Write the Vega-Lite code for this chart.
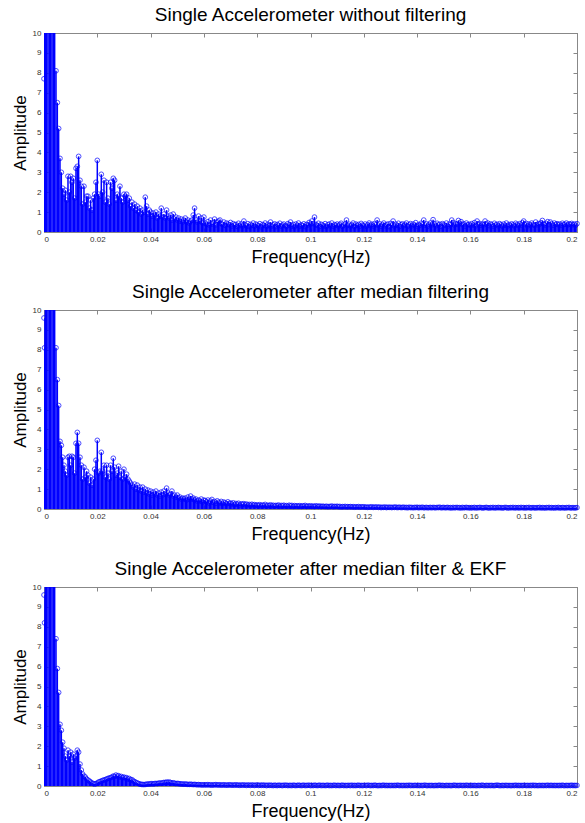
{
"$schema": "https://vega.github.io/schema/vega-lite/v6.json",
"background": "white",
"padding": {"left": 10, "top": 5, "right": 5, "bottom": 5},
"bounds": "flush",
"spacing": 78,
"config": {
  "view": {"stroke": "#888888", "strokeWidth": 1},
  "axis": {"grid": false, "domainColor": "#888888", "tickColor": "#888888", "tickSize": -4, "labelPadding": 7, "labelColor": "#333333", "labelFont": "Liberation Sans", "labelFontSize": 8, "titleFont": "Liberation Sans", "titleFontWeight": "normal", "titleColor": "#000000"},
  "title": {"font": "Liberation Sans", "fontSize": 19, "fontWeight": "normal", "color": "#000000", "offset": 4}
},
"datasets": {"d": [
{"f":0,"a":7.7,"b":9.6,"c":9.6},
{"f":0.0002,"a":15,"b":8.1,"c":8.2},
{"f":0.0005,"a":15,"b":15,"c":15},
{"f":0.001,"a":15,"b":15,"c":15},
{"f":0.0015,"a":15,"b":15,"c":15},
{"f":0.002,"a":15,"b":15,"c":15},
{"f":0.0025,"a":15,"b":15,"c":15},
{"f":0.003,"a":15,"b":15,"c":15},
{"f":0.0035,"a":15,"b":15,"c":15},
{"f":0.004,"a":15,"b":15,"c":15},
{"f":0.0045,"a":8.1,"b":8.1,"c":7.4},
{"f":0.005,"a":6.5,"b":6.5,"c":5.9},
{"f":0.0055,"a":5.2,"b":5.2,"c":4.7},
{"f":0.006,"a":3.7,"b":3.4,"c":3.1},
{"f":0.0065,"a":3.0,"b":3.2,"c":2.8},
{"f":0.007,"a":2.2,"b":2.6,"c":2.2},
{"f":0.0075,"a":1.9,"b":2.2,"c":1.9},
{"f":0.008,"a":2.1,"b":1.9,"c":1.5},
{"f":0.0085,"a":1.6,"b":1.7,"c":1.3},
{"f":0.009,"a":2.8,"b":2.6,"c":1.8},
{"f":0.0095,"a":2.0,"b":2.65,"c":1.5},
{"f":0.01,"a":2.8,"b":2.2,"c":1.7},
{"f":0.0105,"a":2.5,"b":2.65,"c":1.2},
{"f":0.011,"a":2.7,"b":2.6,"c":1.6},
{"f":0.0115,"a":1.7,"b":1.8,"c":1.4},
{"f":0.012,"a":3.2,"b":3.3,"c":1.5},
{"f":0.0125,"a":3.3,"b":3.85,"c":1.8},
{"f":0.013,"a":3.8,"b":3.3,"c":1.7},
{"f":0.0135,"a":2.6,"b":2.6,"c":1.1},
{"f":0.014,"a":2.3,"b":2.2,"c":0.8},
{"f":0.0145,"a":1.4,"b":1.5,"c":0.6},
{"f":0.015,"a":2.3,"b":2.1,"c":0.5},
{"f":0.0155,"a":1.5,"b":1.6,"c":0.45},
{"f":0.016,"a":1.8,"b":1.9,"c":0.35},
{"f":0.0165,"a":1.8,"b":1.7,"c":0.3},
{"f":0.017,"a":1.2,"b":1.3,"c":0.25},
{"f":0.0175,"a":1.6,"b":1.6,"c":0.2},
{"f":0.018,"a":1.1,"b":1.2,"c":0.15},
{"f":0.0185,"a":1.7,"b":1.5,"c":0.12},
{"f":0.019,"a":1.9,"b":2.0,"c":0.1},
{"f":0.0195,"a":2.5,"b":2.45,"c":0.12},
{"f":0.02,"a":3.6,"b":3.45,"c":0.15},
{"f":0.0205,"a":1.9,"b":1.8,"c":0.2},
{"f":0.021,"a":1.8,"b":1.9,"c":0.22},
{"f":0.0215,"a":2.9,"b":2.85,"c":0.25},
{"f":0.022,"a":2.0,"b":1.9,"c":0.28},
{"f":0.0225,"a":2.6,"b":2.2,"c":0.3},
{"f":0.023,"a":1.5,"b":1.6,"c":0.32},
{"f":0.0235,"a":2.5,"b":2.2,"c":0.35},
{"f":0.024,"a":1.7,"b":1.8,"c":0.38},
{"f":0.0245,"a":1.4,"b":1.5,"c":0.4},
{"f":0.025,"a":2.5,"b":2.2,"c":0.42},
{"f":0.0255,"a":2.2,"b":1.9,"c":0.45},
{"f":0.026,"a":2.7,"b":2.55,"c":0.5},
{"f":0.0265,"a":2.6,"b":2.1,"c":0.48},
{"f":0.027,"a":1.6,"b":1.7,"c":0.55},
{"f":0.0275,"a":1.9,"b":1.8,"c":0.5},
{"f":0.028,"a":1.8,"b":2.15,"c":0.52},
{"f":0.0285,"a":2.3,"b":1.6,"c":0.45},
{"f":0.029,"a":1.7,"b":1.9,"c":0.48},
{"f":0.0295,"a":1.5,"b":1.5,"c":0.42},
{"f":0.03,"a":1.9,"b":2.0,"c":0.45},
{"f":0.0305,"a":1.8,"b":1.6,"c":0.4},
{"f":0.031,"a":1.9,"b":1.75,"c":0.42},
{"f":0.0315,"a":1.6,"b":1.5,"c":0.35},
{"f":0.032,"a":1.7,"b":1.4,"c":0.38},
{"f":0.0325,"a":1.3,"b":1.3,"c":0.3},
{"f":0.033,"a":1.5,"b":1.2,"c":0.32},
{"f":0.0335,"a":1.2,"b":1.1,"c":0.25},
{"f":0.034,"a":1.4,"b":1.25,"c":0.22},
{"f":0.0345,"a":1.1,"b":1.0,"c":0.18},
{"f":0.035,"a":1.3,"b":1.2,"c":0.15},
{"f":0.0355,"a":1.0,"b":0.95,"c":0.12},
{"f":0.036,"a":1.2,"b":1.1,"c":0.1},
{"f":0.0365,"a":0.9,"b":0.9,"c":0.08},
{"f":0.037,"a":1.1,"b":1.1,"c":0.08},
{"f":0.0375,"a":1.0,"b":0.85,"c":0.07},
{"f":0.038,"a":1.75,"b":1.0,"c":0.08},
{"f":0.0385,"a":1.3,"b":0.8,"c":0.09},
{"f":0.039,"a":0.9,"b":0.95,"c":0.1},
{"f":0.0395,"a":1.1,"b":0.75,"c":0.1},
{"f":0.04,"a":1.0,"b":0.9,"c":0.11},
{"f":0.0405,"a":0.8,"b":0.7,"c":0.12},
{"f":0.041,"a":0.95,"b":0.85,"c":0.1},
{"f":0.0415,"a":0.85,"b":0.75,"c":0.12},
{"f":0.042,"a":1.0,"b":0.9,"c":0.13},
{"f":0.0425,"a":0.7,"b":0.7,"c":0.12},
{"f":0.043,"a":0.9,"b":0.8,"c":0.14},
{"f":0.0435,"a":0.8,"b":0.65,"c":0.15},
{"f":0.044,"a":1.2,"b":0.85,"c":0.14},
{"f":0.0445,"a":0.75,"b":0.7,"c":0.16},
{"f":0.045,"a":0.9,"b":0.9,"c":0.18},
{"f":0.0455,"a":0.7,"b":0.75,"c":0.17},
{"f":0.046,"a":1.1,"b":1.05,"c":0.2},
{"f":0.0465,"a":0.8,"b":0.8,"c":0.18},
{"f":0.047,"a":0.7,"b":0.7,"c":0.2},
{"f":0.0475,"a":0.85,"b":0.75,"c":0.17},
{"f":0.048,"a":0.6,"b":0.9,"c":0.15},
{"f":0.0485,"a":0.9,"b":0.65,"c":0.16},
{"f":0.049,"a":0.65,"b":0.7,"c":0.14},
{"f":0.0495,"a":0.75,"b":0.6,"c":0.12},
{"f":0.05,"a":0.6,"b":0.7,"c":0.13},
{"f":0.0505,"a":0.7,"b":0.55,"c":0.12},
{"f":0.051,"a":0.55,"b":0.6,"c":0.11},
{"f":0.0515,"a":0.65,"b":0.5,"c":0.1},
{"f":0.052,"a":0.5,"b":0.55,"c":0.1},
{"f":0.0525,"a":0.6,"b":0.5,"c":0.09},
{"f":0.053,"a":0.7,"b":0.55,"c":0.1},
{"f":0.0535,"a":0.5,"b":0.45,"c":0.09},
{"f":0.054,"a":0.6,"b":0.6,"c":0.08},
{"f":0.0545,"a":0.45,"b":0.5,"c":0.08},
{"f":0.055,"a":0.55,"b":0.65,"c":0.09},
{"f":0.0555,"a":0.6,"b":0.5,"c":0.08},
{"f":0.056,"a":0.85,"b":0.55,"c":0.07},
{"f":0.0565,"a":1.2,"b":0.45,"c":0.08},
{"f":0.057,"a":0.6,"b":0.5,"c":0.07},
{"f":0.0575,"a":0.5,"b":0.4,"c":0.06},
{"f":0.058,"a":0.8,"b":0.45,"c":0.07},
{"f":0.0585,"a":0.55,"b":0.4,"c":0.06},
{"f":0.059,"a":0.7,"b":0.5,"c":0.06},
{"f":0.0595,"a":0.45,"b":0.35,"c":0.05},
{"f":0.06,"a":0.75,"b":0.45,"c":0.06},
{"f":0.0605,"a":0.45,"b":0.42,"c":0.06},
{"f":0.061,"a":0.38,"b":0.36,"c":0.05},
{"f":0.0615,"a":0.52,"b":0.45,"c":0.07},
{"f":0.062,"a":0.35,"b":0.3,"c":0.05},
{"f":0.0625,"a":0.6,"b":0.4,"c":0.06},
{"f":0.063,"a":0.4,"b":0.48,"c":0.04},
{"f":0.0635,"a":0.48,"b":0.33,"c":0.06},
{"f":0.064,"a":0.65,"b":0.38,"c":0.05},
{"f":0.0645,"a":0.36,"b":0.29,"c":0.07},
{"f":0.065,"a":0.5,"b":0.41,"c":0.05},
{"f":0.0655,"a":0.55,"b":0.34,"c":0.05},
{"f":0.066,"a":0.6,"b":0.3,"c":0.06},
{"f":0.0665,"a":0.42,"b":0.38,"c":0.04},
{"f":0.067,"a":0.38,"b":0.27,"c":0.05},
{"f":0.0675,"a":0.5,"b":0.35,"c":0.06},
{"f":0.068,"a":0.33,"b":0.31,"c":0.04},
{"f":0.0685,"a":0.45,"b":0.26,"c":0.05},
{"f":0.069,"a":0.4,"b":0.36,"c":0.04},
{"f":0.0695,"a":0.36,"b":0.28,"c":0.06},
{"f":0.07,"a":0.48,"b":0.3,"c":0.05},
{"f":0.0705,"a":0.3,"b":0.25,"c":0.04},
{"f":0.071,"a":0.42,"b":0.31,"c":0.05},
{"f":0.0715,"a":0.35,"b":0.22,"c":0.04},
{"f":0.072,"a":0.38,"b":0.28,"c":0.06},
{"f":0.0725,"a":0.28,"b":0.24,"c":0.04},
{"f":0.073,"a":0.44,"b":0.29,"c":0.05},
{"f":0.0735,"a":0.32,"b":0.2,"c":0.03},
{"f":0.074,"a":0.4,"b":0.26,"c":0.05},
{"f":0.0745,"a":0.3,"b":0.23,"c":0.04},
{"f":0.075,"a":0.55,"b":0.27,"c":0.05},
{"f":0.0755,"a":0.36,"b":0.21,"c":0.04},
{"f":0.076,"a":0.3,"b":0.25,"c":0.03},
{"f":0.0765,"a":0.42,"b":0.2,"c":0.05},
{"f":0.077,"a":0.27,"b":0.23,"c":0.04},
{"f":0.0775,"a":0.38,"b":0.19,"c":0.03},
{"f":0.078,"a":0.33,"b":0.24,"c":0.05},
{"f":0.0785,"a":0.45,"b":0.2,"c":0.04},
{"f":0.079,"a":0.29,"b":0.22,"c":0.03},
{"f":0.0795,"a":0.4,"b":0.18,"c":0.04},
{"f":0.08,"a":0.35,"b":0.21,"c":0.05},
{"f":0.0805,"a":0.31,"b":0.17,"c":0.03},
{"f":0.081,"a":0.42,"b":0.22,"c":0.04},
{"f":0.0815,"a":0.26,"b":0.16,"c":0.03},
{"f":0.082,"a":0.37,"b":0.2,"c":0.05},
{"f":0.0825,"a":0.34,"b":0.18,"c":0.03},
{"f":0.083,"a":0.45,"b":0.23,"c":0.04},
{"f":0.0835,"a":0.28,"b":0.15,"c":0.02},
{"f":0.084,"a":0.39,"b":0.19,"c":0.04},
{"f":0.0845,"a":0.32,"b":0.17,"c":0.03},
{"f":0.085,"a":0.5,"b":0.21,"c":0.04},
{"f":0.0855,"a":0.3,"b":0.16,"c":0.03},
{"f":0.086,"a":0.36,"b":0.19,"c":0.02},
{"f":0.0865,"a":0.41,"b":0.15,"c":0.04},
{"f":0.087,"a":0.27,"b":0.18,"c":0.03},
{"f":0.0875,"a":0.38,"b":0.17,"c":0.02},
{"f":0.088,"a":0.33,"b":0.2,"c":0.04},
{"f":0.0885,"a":0.44,"b":0.14,"c":0.03},
{"f":0.089,"a":0.29,"b":0.18,"c":0.03},
{"f":0.0895,"a":0.35,"b":0.16,"c":0.02},
{"f":0.09,"a":0.4,"b":0.19,"c":0.04},
{"f":0.0905,"a":0.32,"b":0.15,"c":0.03},
{"f":0.091,"a":0.28,"b":0.17,"c":0.04},
{"f":0.0915,"a":0.42,"b":0.14,"c":0.02},
{"f":0.092,"a":0.36,"b":0.19,"c":0.03},
{"f":0.0925,"a":0.5,"b":0.16,"c":0.03},
{"f":0.093,"a":0.3,"b":0.18,"c":0.02},
{"f":0.0935,"a":0.38,"b":0.13,"c":0.04},
{"f":0.094,"a":0.26,"b":0.17,"c":0.03},
{"f":0.0945,"a":0.4,"b":0.15,"c":0.02},
{"f":0.095,"a":0.34,"b":0.16,"c":0.03},
{"f":0.0955,"a":0.45,"b":0.14,"c":0.04},
{"f":0.096,"a":0.29,"b":0.17,"c":0.03},
{"f":0.0965,"a":0.36,"b":0.13,"c":0.02},
{"f":0.097,"a":0.32,"b":0.16,"c":0.03},
{"f":0.0975,"a":0.41,"b":0.15,"c":0.04},
{"f":0.098,"a":0.27,"b":0.18,"c":0.02},
{"f":0.0985,"a":0.38,"b":0.13,"c":0.03},
{"f":0.099,"a":0.35,"b":0.15,"c":0.03},
{"f":0.0995,"a":0.48,"b":0.14,"c":0.04},
{"f":0.1,"a":0.4,"b":0.16,"c":0.02},
{"f":0.1005,"a":0.55,"b":0.13,"c":0.03},
{"f":0.101,"a":0.42,"b":0.15,"c":0.02},
{"f":0.1015,"a":0.75,"b":0.12,"c":0.04},
{"f":0.102,"a":0.38,"b":0.16,"c":0.03},
{"f":0.1025,"a":0.33,"b":0.14,"c":0.02},
{"f":0.103,"a":0.44,"b":0.13,"c":0.03},
{"f":0.1035,"a":0.28,"b":0.15,"c":0.04},
{"f":0.104,"a":0.39,"b":0.12,"c":0.02},
{"f":0.1045,"a":0.35,"b":0.14,"c":0.03},
{"f":0.105,"a":0.3,"b":0.13,"c":0.03},
{"f":0.1055,"a":0.42,"b":0.12,"c":0.02},
{"f":0.106,"a":0.27,"b":0.14,"c":0.03},
{"f":0.1065,"a":0.36,"b":0.11,"c":0.04},
{"f":0.107,"a":0.4,"b":0.13,"c":0.02},
{"f":0.1075,"a":0.31,"b":0.12,"c":0.03},
{"f":0.108,"a":0.45,"b":0.15,"c":0.02},
{"f":0.1085,"a":0.29,"b":0.11,"c":0.03},
{"f":0.109,"a":0.37,"b":0.13,"c":0.04},
{"f":0.1095,"a":0.34,"b":0.12,"c":0.02},
{"f":0.11,"a":0.4,"b":0.14,"c":0.03},
{"f":0.1105,"a":0.3,"b":0.11,"c":0.03},
{"f":0.111,"a":0.38,"b":0.13,"c":0.02},
{"f":0.1115,"a":0.44,"b":0.1,"c":0.03},
{"f":0.112,"a":0.28,"b":0.12,"c":0.04},
{"f":0.1125,"a":0.35,"b":0.11,"c":0.02},
{"f":0.113,"a":0.41,"b":0.13,"c":0.03},
{"f":0.1135,"a":0.6,"b":0.1,"c":0.02},
{"f":0.114,"a":0.33,"b":0.12,"c":0.03},
{"f":0.1145,"a":0.39,"b":0.11,"c":0.03},
{"f":0.115,"a":0.3,"b":0.12,"c":0.02},
{"f":0.1155,"a":0.36,"b":0.1,"c":0.04},
{"f":0.116,"a":0.45,"b":0.12,"c":0.02},
{"f":0.1165,"a":0.27,"b":0.09,"c":0.03},
{"f":0.117,"a":0.4,"b":0.11,"c":0.02},
{"f":0.1175,"a":0.33,"b":0.1,"c":0.03},
{"f":0.118,"a":0.38,"b":0.12,"c":0.04},
{"f":0.1185,"a":0.29,"b":0.09,"c":0.02},
{"f":0.119,"a":0.43,"b":0.11,"c":0.03},
{"f":0.1195,"a":0.35,"b":0.1,"c":0.02},
{"f":0.12,"a":0.31,"b":0.11,"c":0.03},
{"f":0.1205,"a":0.4,"b":0.09,"c":0.03},
{"f":0.121,"a":0.28,"b":0.1,"c":0.02},
{"f":0.1215,"a":0.37,"b":0.08,"c":0.04},
{"f":0.122,"a":0.45,"b":0.1,"c":0.03},
{"f":0.1225,"a":0.32,"b":0.09,"c":0.02},
{"f":0.123,"a":0.39,"b":0.11,"c":0.03},
{"f":0.1235,"a":0.3,"b":0.08,"c":0.02},
{"f":0.124,"a":0.42,"b":0.1,"c":0.04},
{"f":0.1245,"a":0.36,"b":0.09,"c":0.03},
{"f":0.125,"a":0.6,"b":0.1,"c":0.02},
{"f":0.1255,"a":0.34,"b":0.08,"c":0.02},
{"f":0.126,"a":0.41,"b":0.1,"c":0.03},
{"f":0.1265,"a":0.29,"b":0.07,"c":0.02},
{"f":0.127,"a":0.38,"b":0.09,"c":0.03},
{"f":0.1275,"a":0.45,"b":0.08,"c":0.04},
{"f":0.128,"a":0.31,"b":0.1,"c":0.02},
{"f":0.1285,"a":0.36,"b":0.07,"c":0.03},
{"f":0.129,"a":0.4,"b":0.09,"c":0.02},
{"f":0.1295,"a":0.27,"b":0.08,"c":0.03},
{"f":0.13,"a":0.43,"b":0.09,"c":0.02},
{"f":0.1305,"a":0.35,"b":0.07,"c":0.03},
{"f":0.131,"a":0.55,"b":0.09,"c":0.02},
{"f":0.1315,"a":0.3,"b":0.08,"c":0.03},
{"f":0.132,"a":0.39,"b":0.1,"c":0.02},
{"f":0.1325,"a":0.33,"b":0.07,"c":0.04},
{"f":0.133,"a":0.44,"b":0.08,"c":0.03},
{"f":0.1335,"a":0.28,"b":0.09,"c":0.02},
{"f":0.134,"a":0.37,"b":0.07,"c":0.03},
{"f":0.1345,"a":0.41,"b":0.08,"c":0.02},
{"f":0.135,"a":0.32,"b":0.09,"c":0.03},
{"f":0.1355,"a":0.38,"b":0.07,"c":0.02},
{"f":0.136,"a":0.45,"b":0.08,"c":0.03},
{"f":0.1365,"a":0.29,"b":0.06,"c":0.02},
{"f":0.137,"a":0.36,"b":0.09,"c":0.04},
{"f":0.1375,"a":0.42,"b":0.07,"c":0.02},
{"f":0.138,"a":0.31,"b":0.08,"c":0.03},
{"f":0.1385,"a":0.4,"b":0.06,"c":0.02},
{"f":0.139,"a":0.34,"b":0.08,"c":0.03},
{"f":0.1395,"a":0.47,"b":0.07,"c":0.03},
{"f":0.14,"a":0.3,"b":0.09,"c":0.02},
{"f":0.1405,"a":0.37,"b":0.06,"c":0.03},
{"f":0.141,"a":0.33,"b":0.08,"c":0.02},
{"f":0.1415,"a":0.44,"b":0.07,"c":0.03},
{"f":0.142,"a":0.39,"b":0.09,"c":0.02},
{"f":0.1425,"a":0.6,"b":0.06,"c":0.03},
{"f":0.143,"a":0.35,"b":0.07,"c":0.04},
{"f":0.1435,"a":0.41,"b":0.08,"c":0.02},
{"f":0.144,"a":0.29,"b":0.06,"c":0.02},
{"f":0.1445,"a":0.38,"b":0.07,"c":0.03},
{"f":0.145,"a":0.45,"b":0.08,"c":0.02},
{"f":0.1455,"a":0.36,"b":0.06,"c":0.03},
{"f":0.146,"a":0.62,"b":0.08,"c":0.02},
{"f":0.1465,"a":0.4,"b":0.07,"c":0.02},
{"f":0.147,"a":0.31,"b":0.06,"c":0.03},
{"f":0.1475,"a":0.44,"b":0.08,"c":0.02},
{"f":0.148,"a":0.35,"b":0.07,"c":0.03},
{"f":0.1485,"a":0.39,"b":0.09,"c":0.04},
{"f":0.149,"a":0.28,"b":0.06,"c":0.02},
{"f":0.1495,"a":0.42,"b":0.07,"c":0.03},
{"f":0.15,"a":0.37,"b":0.08,"c":0.02},
{"f":0.1505,"a":0.33,"b":0.06,"c":0.02},
{"f":0.151,"a":0.45,"b":0.07,"c":0.03},
{"f":0.1515,"a":0.3,"b":0.08,"c":0.02},
{"f":0.152,"a":0.4,"b":0.06,"c":0.03},
{"f":0.1525,"a":0.36,"b":0.07,"c":0.02},
{"f":0.153,"a":0.6,"b":0.05,"c":0.02},
{"f":0.1535,"a":0.48,"b":0.08,"c":0.03},
{"f":0.154,"a":0.35,"b":0.06,"c":0.04},
{"f":0.1545,"a":0.42,"b":0.07,"c":0.02},
{"f":0.155,"a":0.38,"b":0.08,"c":0.03},
{"f":0.1555,"a":0.58,"b":0.06,"c":0.02},
{"f":0.156,"a":0.44,"b":0.07,"c":0.03},
{"f":0.1565,"a":0.52,"b":0.05,"c":0.03},
{"f":0.157,"a":0.37,"b":0.08,"c":0.02},
{"f":0.1575,"a":0.41,"b":0.06,"c":0.03},
{"f":0.158,"a":0.3,"b":0.07,"c":0.02},
{"f":0.1585,"a":0.45,"b":0.08,"c":0.04},
{"f":0.159,"a":0.36,"b":0.06,"c":0.02},
{"f":0.1595,"a":0.39,"b":0.07,"c":0.03},
{"f":0.16,"a":0.33,"b":0.05,"c":0.02},
{"f":0.1605,"a":0.42,"b":0.07,"c":0.03},
{"f":0.161,"a":0.35,"b":0.06,"c":0.02},
{"f":0.1615,"a":0.47,"b":0.08,"c":0.03},
{"f":0.162,"a":0.31,"b":0.05,"c":0.02},
{"f":0.1625,"a":0.55,"b":0.07,"c":0.02},
{"f":0.163,"a":0.38,"b":0.06,"c":0.03},
{"f":0.1635,"a":0.43,"b":0.08,"c":0.02},
{"f":0.164,"a":0.34,"b":0.07,"c":0.03},
{"f":0.1645,"a":0.4,"b":0.05,"c":0.04},
{"f":0.165,"a":0.36,"b":0.06,"c":0.02},
{"f":0.1655,"a":0.55,"b":0.07,"c":0.02},
{"f":0.166,"a":0.39,"b":0.08,"c":0.03},
{"f":0.1665,"a":0.45,"b":0.06,"c":0.02},
{"f":0.167,"a":0.32,"b":0.05,"c":0.03},
{"f":0.1675,"a":0.41,"b":0.07,"c":0.02},
{"f":0.168,"a":0.37,"b":0.06,"c":0.03},
{"f":0.1685,"a":0.3,"b":0.08,"c":0.02},
{"f":0.169,"a":0.44,"b":0.05,"c":0.02},
{"f":0.1695,"a":0.35,"b":0.07,"c":0.03},
{"f":0.17,"a":0.39,"b":0.06,"c":0.04},
{"f":0.1705,"a":0.31,"b":0.08,"c":0.03},
{"f":0.171,"a":0.42,"b":0.06,"c":0.02},
{"f":0.1715,"a":0.36,"b":0.07,"c":0.02},
{"f":0.172,"a":0.29,"b":0.05,"c":0.03},
{"f":0.1725,"a":0.4,"b":0.06,"c":0.02},
{"f":0.173,"a":0.34,"b":0.08,"c":0.03},
{"f":0.1735,"a":0.45,"b":0.07,"c":0.03},
{"f":0.174,"a":0.3,"b":0.05,"c":0.02},
{"f":0.1745,"a":0.38,"b":0.06,"c":0.03},
{"f":0.175,"a":0.33,"b":0.07,"c":0.02},
{"f":0.1755,"a":0.41,"b":0.06,"c":0.02},
{"f":0.176,"a":0.36,"b":0.08,"c":0.03},
{"f":0.1765,"a":0.3,"b":0.05,"c":0.02},
{"f":0.177,"a":0.44,"b":0.07,"c":0.04},
{"f":0.1775,"a":0.38,"b":0.06,"c":0.02},
{"f":0.178,"a":0.32,"b":0.07,"c":0.03},
{"f":0.1785,"a":0.42,"b":0.05,"c":0.02},
{"f":0.179,"a":0.35,"b":0.08,"c":0.03},
{"f":0.1795,"a":0.47,"b":0.06,"c":0.02},
{"f":0.18,"a":0.55,"b":0.07,"c":0.03},
{"f":0.1805,"a":0.37,"b":0.05,"c":0.03},
{"f":0.181,"a":0.43,"b":0.07,"c":0.02},
{"f":0.1815,"a":0.31,"b":0.06,"c":0.03},
{"f":0.182,"a":0.4,"b":0.08,"c":0.02},
{"f":0.1825,"a":0.35,"b":0.05,"c":0.03},
{"f":0.183,"a":0.45,"b":0.06,"c":0.02},
{"f":0.1835,"a":0.38,"b":0.07,"c":0.04},
{"f":0.184,"a":0.33,"b":0.06,"c":0.02},
{"f":0.1845,"a":0.5,"b":0.05,"c":0.03},
{"f":0.185,"a":0.36,"b":0.07,"c":0.02},
{"f":0.1855,"a":0.42,"b":0.06,"c":0.02},
{"f":0.186,"a":0.39,"b":0.08,"c":0.03},
{"f":0.1865,"a":0.46,"b":0.05,"c":0.02},
{"f":0.187,"a":0.58,"b":0.07,"c":0.03},
{"f":0.1875,"a":0.4,"b":0.06,"c":0.02},
{"f":0.188,"a":0.35,"b":0.05,"c":0.03},
{"f":0.1885,"a":0.43,"b":0.07,"c":0.02},
{"f":0.189,"a":0.52,"b":0.06,"c":0.04},
{"f":0.1895,"a":0.37,"b":0.08,"c":0.02},
{"f":0.19,"a":0.5,"b":0.05,"c":0.03},
{"f":0.1905,"a":0.41,"b":0.07,"c":0.03},
{"f":0.191,"a":0.34,"b":0.06,"c":0.02},
{"f":0.1915,"a":0.45,"b":0.05,"c":0.03},
{"f":0.192,"a":0.38,"b":0.07,"c":0.02},
{"f":0.1925,"a":0.42,"b":0.06,"c":0.03},
{"f":0.193,"a":0.36,"b":0.08,"c":0.02},
{"f":0.1935,"a":0.4,"b":0.05,"c":0.03},
{"f":0.194,"a":0.33,"b":0.06,"c":0.02},
{"f":0.1945,"a":0.44,"b":0.07,"c":0.04},
{"f":0.195,"a":0.37,"b":0.06,"c":0.02},
{"f":0.1955,"a":0.39,"b":0.05,"c":0.02},
{"f":0.196,"a":0.45,"b":0.07,"c":0.03},
{"f":0.1965,"a":0.35,"b":0.06,"c":0.02},
{"f":0.197,"a":0.41,"b":0.08,"c":0.03},
{"f":0.1975,"a":0.38,"b":0.05,"c":0.02},
{"f":0.198,"a":0.43,"b":0.06,"c":0.04},
{"f":0.1985,"a":0.36,"b":0.07,"c":0.02},
{"f":0.199,"a":0.4,"b":0.05,"c":0.03},
{"f":0.1995,"a":0.34,"b":0.06,"c":0.02},
{"f":0.2,"a":0.42,"b":0.07,"c":0.03}
]},
"vconcat": [
{
 "title": {"text": "Single Accelerometer without filtering"},
 "width": 533, "height": 199,
 "data": {"name": "d"},
 "layer": [
  {"mark": {"type": "rule", "color": "#0000ff", "strokeWidth": 1.5, "clip": true},
   "encoding": {
    "x": {"field": "f", "type": "quantitative", "scale": {"domain": [0, 0.2], "nice": false, "zero": false}, "axis": {"orient": "bottom", "values": [0,0.02,0.04,0.06,0.08,0.1,0.12,0.14,0.16,0.18,0.2], "format": ".2~f", "title": "Frequency(Hz)", "titleFontSize": 18, "titlePadding": 5}},
    "y": {"field": "a", "type": "quantitative", "scale": {"domain": [0, 10], "nice": false}, "axis": {"orient": "left", "values": [0,1,2,3,4,5,6,7,8,9,10], "title": "Amplitude", "titleFontSize": 17, "titlePadding": 3}},
    "y2": {"datum": 0}
   }},
  {"transform": [{"filter": "datum.a <= 10"}],
   "mark": {"type": "point", "shape": "circle", "filled": false, "color": "#0000ff", "size": 22, "strokeWidth": 1},
   "encoding": {
    "x": {"field": "f", "type": "quantitative", "axis": {"orient": "top", "values": [0,0.02,0.04,0.06,0.08,0.1,0.12,0.14,0.16,0.18,0.2], "labels": false, "title": null}},
    "y": {"field": "a", "type": "quantitative", "axis": {"orient": "right", "values": [0,1,2,3,4,5,6,7,8,9,10], "labels": false, "title": null}}
   }}
 ],
 "resolve": {"axis": {"x": "independent", "y": "independent"}}
},
{
 "title": {"text": "Single Accelerometer after median filtering"},
 "width": 533, "height": 199,
 "data": {"name": "d"},
 "layer": [
  {"mark": {"type": "rule", "color": "#0000ff", "strokeWidth": 1.5, "clip": true},
   "encoding": {
    "x": {"field": "f", "type": "quantitative", "scale": {"domain": [0, 0.2], "nice": false, "zero": false}, "axis": {"orient": "bottom", "values": [0,0.02,0.04,0.06,0.08,0.1,0.12,0.14,0.16,0.18,0.2], "format": ".2~f", "title": "Frequency(Hz)", "titleFontSize": 18, "titlePadding": 5}},
    "y": {"field": "b", "type": "quantitative", "scale": {"domain": [0, 10], "nice": false}, "axis": {"orient": "left", "values": [0,1,2,3,4,5,6,7,8,9,10], "title": "Amplitude", "titleFontSize": 17, "titlePadding": 3}},
    "y2": {"datum": 0}
   }},
  {"transform": [{"filter": "datum.b <= 10"}],
   "mark": {"type": "point", "shape": "circle", "filled": false, "color": "#0000ff", "size": 22, "strokeWidth": 1},
   "encoding": {
    "x": {"field": "f", "type": "quantitative", "axis": {"orient": "top", "values": [0,0.02,0.04,0.06,0.08,0.1,0.12,0.14,0.16,0.18,0.2], "labels": false, "title": null}},
    "y": {"field": "b", "type": "quantitative", "axis": {"orient": "right", "values": [0,1,2,3,4,5,6,7,8,9,10], "labels": false, "title": null}}
   }}
 ],
 "resolve": {"axis": {"x": "independent", "y": "independent"}}
},
{
 "title": {"text": "Single Accelerometer after median filter & EKF"},
 "width": 533, "height": 199,
 "data": {"name": "d"},
 "layer": [
  {"mark": {"type": "rule", "color": "#0000ff", "strokeWidth": 1.5, "clip": true},
   "encoding": {
    "x": {"field": "f", "type": "quantitative", "scale": {"domain": [0, 0.2], "nice": false, "zero": false}, "axis": {"orient": "bottom", "values": [0,0.02,0.04,0.06,0.08,0.1,0.12,0.14,0.16,0.18,0.2], "format": ".2~f", "title": "Frequency(Hz)", "titleFontSize": 18, "titlePadding": 5}},
    "y": {"field": "c", "type": "quantitative", "scale": {"domain": [0, 10], "nice": false}, "axis": {"orient": "left", "values": [0,1,2,3,4,5,6,7,8,9,10], "title": "Amplitude", "titleFontSize": 17, "titlePadding": 3}},
    "y2": {"datum": 0}
   }},
  {"transform": [{"filter": "datum.c <= 10"}],
   "mark": {"type": "point", "shape": "circle", "filled": false, "color": "#0000ff", "size": 22, "strokeWidth": 1},
   "encoding": {
    "x": {"field": "f", "type": "quantitative", "axis": {"orient": "top", "values": [0,0.02,0.04,0.06,0.08,0.1,0.12,0.14,0.16,0.18,0.2], "labels": false, "title": null}},
    "y": {"field": "c", "type": "quantitative", "axis": {"orient": "right", "values": [0,1,2,3,4,5,6,7,8,9,10], "labels": false, "title": null}}
   }}
 ],
 "resolve": {"axis": {"x": "independent", "y": "independent"}}
}
]
}
